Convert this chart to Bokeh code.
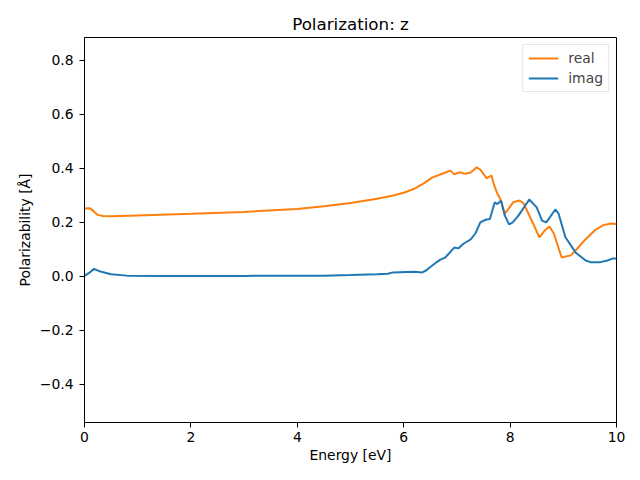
from bokeh.plotting import figure
from bokeh.models import FixedTicker, CustomJSTickFormatter, Range1d, Legend, LegendItem
from bokeh.embed import file_html
from bokeh.resources import INLINE

# ---- data ----
energy_real = [0.0, 0.1, 0.18, 0.25, 0.35, 0.5, 1.0, 2.0, 3.0, 4.0, 4.5, 5.0, 5.5, 5.8,
               6.0, 6.2, 6.37, 6.54, 6.75, 6.88, 6.95, 7.05, 7.16, 7.26, 7.37, 7.44,
               7.56, 7.65, 7.69, 7.76, 7.82, 7.9, 7.97, 8.06, 8.18, 8.25, 8.4, 8.55,
               8.65, 8.74, 8.82, 8.97, 9.14, 9.23, 9.42, 9.6, 9.75, 9.9, 10.0]
real = [0.252, 0.253, 0.24, 0.228, 0.224, 0.223, 0.226, 0.232, 0.239, 0.25, 0.26, 0.272,
        0.288, 0.3, 0.31, 0.325, 0.344, 0.367, 0.382, 0.392, 0.378, 0.386, 0.38, 0.385,
        0.404, 0.396, 0.363, 0.374, 0.344, 0.307, 0.285, 0.233, 0.25, 0.275, 0.281,
        0.272, 0.21, 0.145, 0.17, 0.185, 0.16, 0.07, 0.078, 0.096, 0.138, 0.172, 0.19,
        0.196, 0.194]

energy_imag = [0.0, 0.08, 0.18, 0.3, 0.5, 0.8, 1.5, 3.0, 4.5, 5.0, 5.5, 5.7, 5.8, 6.2,
               6.35, 6.42, 6.5, 6.6, 6.69, 6.78, 6.85, 6.95, 7.03, 7.13, 7.26, 7.35,
               7.44, 7.54, 7.62, 7.71, 7.76, 7.83, 7.9, 7.98, 8.05, 8.16, 8.36, 8.5,
               8.6, 8.68, 8.85, 8.91, 9.04, 9.23, 9.42, 9.51, 9.7, 9.83, 9.92, 10.0]
imag = [0.002, 0.012, 0.028, 0.018, 0.008, 0.003, 0.002, 0.002, 0.003, 0.005, 0.008,
        0.01, 0.015, 0.017, 0.015, 0.022, 0.035, 0.05, 0.062, 0.07, 0.085, 0.107, 0.104,
        0.122, 0.137, 0.16, 0.2, 0.21, 0.213, 0.274, 0.268, 0.28, 0.226, 0.193, 0.2,
        0.226, 0.285, 0.256, 0.207, 0.2, 0.248, 0.233, 0.145, 0.089, 0.059, 0.053,
        0.053, 0.059, 0.066, 0.066]

x_ticks = [0, 2, 4, 6, 8, 10]
y_ticks = [-0.4, -0.2, 0.0, 0.2, 0.4, 0.6, 0.8]

FONT = "DejaVu Sans"

p = figure(frame_width=532, frame_height=385,
           min_border_left=84, min_border_right=16, min_border_top=37, min_border_bottom=50,
           x_range=Range1d(0, 10), y_range=Range1d(-0.541, 0.885),
           output_backend="svg", toolbar_location=None,
           title="Polarization: z")

p.title.align = "center"
p.title.text_font = FONT
p.title.text_font_size = "16.7px"
p.title.text_font_style = "normal"
p.title.text_color = "black"
p.title.standoff = 8

p.outline_line_color = "black"
p.outline_line_alpha = 1
p.outline_line_width = 1
p.xgrid.visible = False
p.ygrid.visible = False
p.background_fill_color = "white"
p.border_fill_color = "white"

r1 = p.line(energy_real, real, line_color="#ff7f0e", line_width=2)
r2 = p.line(energy_imag, imag, line_color="#1f77b4", line_width=2)

p.xaxis.ticker = FixedTicker(ticks=x_ticks)
p.yaxis.ticker = FixedTicker(ticks=y_ticks)
p.xaxis.formatter = CustomJSTickFormatter(code="return tick.toFixed(0);")
p.yaxis.formatter = CustomJSTickFormatter(
    code="var s = tick.toFixed(1); if (s === '-0.0') { s = '0.0'; } return s.replace('-', '\u2212');")

for ax in (p.xaxis[0], p.yaxis[0]):
    ax.axis_line_color = "black"
    ax.major_tick_line_color = "black"
    ax.major_tick_out = 5
    ax.major_tick_in = 0
    ax.minor_tick_line_color = None
    ax.major_label_text_font = FONT
    ax.major_label_text_font_size = "13.9px"
    ax.major_label_text_color = "black"
    ax.major_label_standoff = 6
    ax.axis_label_text_font = FONT
    ax.axis_label_text_font_size = "13.9px"
    ax.axis_label_text_font_style = "normal"
    ax.axis_label_text_color = "black"

p.xaxis.major_label_standoff = 4
p.xaxis.axis_label = "Energy [eV]"
p.yaxis.axis_label = "Polarizability [Å]"
p.xaxis.axis_label_standoff = 2
p.yaxis.axis_label_standoff = 4

legend = Legend(items=[LegendItem(label="real", renderers=[r1]),
                       LegendItem(label="imag", renderers=[r2])],
                location="top_right")
legend.margin = 7
legend.padding = 5
legend.spacing = 4
legend.glyph_width = 30
legend.glyph_height = 16
legend.label_height = 16
legend.label_standoff = 10
legend.label_text_font = FONT
legend.label_text_font_size = "13.9px"
legend.border_line_color = "#cccccc"
legend.border_line_width = 1
legend.background_fill_color = "white"
legend.background_fill_alpha = 0.8
p.add_layout(legend)

open("out.html", "w").write(file_html(p, INLINE))
